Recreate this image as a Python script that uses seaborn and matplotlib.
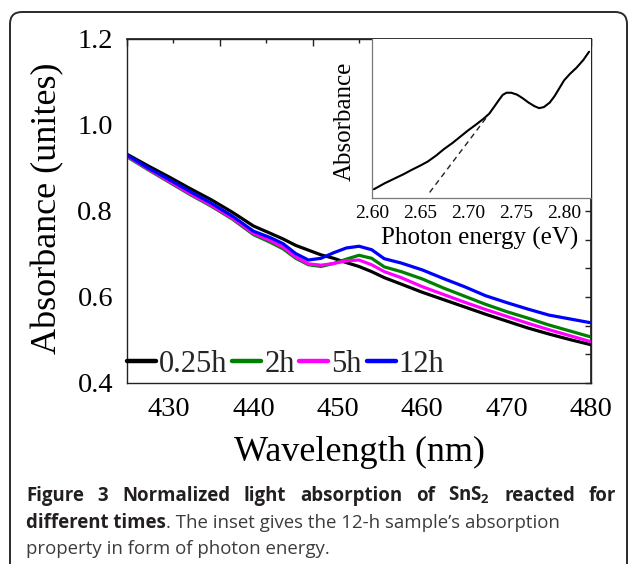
import matplotlib
matplotlib.use("Agg")
import matplotlib.pyplot as plt
import matplotlib.transforms as mtransforms
from matplotlib.patches import FancyBboxPatch
from matplotlib.ticker import MultipleLocator, FixedLocator, FormatStrFormatter, NullFormatter
import seaborn as sns
import pandas as pd
import numpy as np

# ---------------- data ----------------
wavelength = [425, 427.5, 430, 432.5, 435, 437.5, 440, 442, 443.5, 445, 446.5, 448,
              449.5, 451, 452.5, 454, 455.5, 457.5, 460, 462.5, 465, 467.5, 470,
              472.5, 475, 477.5, 480]
abs_025h = [0.932, 0.905, 0.879, 0.852, 0.826, 0.797, 0.765, 0.748, 0.735, 0.720, 0.709,
            0.698, 0.690, 0.680, 0.671, 0.659, 0.645, 0.630, 0.611, 0.594, 0.577, 0.560,
            0.544, 0.528, 0.514, 0.501, 0.489]
abs_2h = [0.926, 0.896, 0.867, 0.838, 0.811, 0.781, 0.745, 0.727, 0.712, 0.690, 0.675,
          0.671, 0.678, 0.688, 0.697, 0.690, 0.670, 0.659, 0.642, 0.621, 0.602, 0.583,
          0.566, 0.551, 0.535, 0.521, 0.507]
abs_5h = [0.928, 0.898, 0.869, 0.840, 0.813, 0.783, 0.748, 0.731, 0.716, 0.693, 0.677,
          0.674, 0.678, 0.684, 0.686, 0.675, 0.659, 0.645, 0.624, 0.606, 0.588, 0.571,
          0.555, 0.539, 0.524, 0.510, 0.496]
abs_12h = [0.930, 0.900, 0.873, 0.845, 0.818, 0.788, 0.753, 0.738, 0.724, 0.701, 0.686,
           0.690, 0.703, 0.714, 0.718, 0.710, 0.689, 0.679, 0.663, 0.643, 0.624, 0.603,
           0.587, 0.572, 0.558, 0.549, 0.540]
series_labels = ["0.25h", "2h", "5h", "12h"]
series_colors = ["#000000", "#008000", "#ff00ff", "#0000ff"]

inset_energy = [2.602, 2.613, 2.624, 2.633, 2.641, 2.650, 2.658, 2.667, 2.675, 2.684,
                2.692, 2.700, 2.709, 2.716, 2.722, 2.727, 2.732, 2.736, 2.740, 2.745,
                2.751, 2.757, 2.763, 2.769, 2.774, 2.779, 2.785, 2.790, 2.795, 2.800,
                2.806, 2.813, 2.820, 2.826]
inset_abs = [0.055, 0.092, 0.124, 0.150, 0.176, 0.203, 0.229, 0.268, 0.308, 0.347,
             0.386, 0.425, 0.465, 0.498, 0.530, 0.572, 0.615, 0.648, 0.662, 0.662,
             0.650, 0.627, 0.600, 0.578, 0.565, 0.572, 0.600, 0.640, 0.690, 0.740,
             0.780, 0.820, 0.868, 0.920]
tangent_energy = [2.660, 2.719]
tangent_abs = [0.035, 0.505]

xticks_main = [430, 440, 450, 460, 470, 480]
yticks_main = [0.4, 0.6, 0.8, 1.0, 1.2]

# ---------------- style ----------------
sns.set_theme(style="white")
plt.rcParams["font.family"] = ["Liberation Serif", "DejaVu Serif"]
plt.rcParams["mathtext.fontset"] = "custom"
plt.rcParams["mathtext.rm"] = "Open Sans"
plt.rcParams["mathtext.bf"] = "Open Sans:bold"

W, H = 629, 564
fig = plt.figure(figsize=(W / 100, H / 100), dpi=100)
fig.patch.set_facecolor("white")

# rounded frame around the figure panel
frame = FancyBboxPatch((10, -30), 617, H - 12 + 30,
                       boxstyle="round,pad=0,rounding_size=12",
                       transform=mtransforms.IdentityTransform(),
                       fill=False, edgecolor="#2a2a2a", linewidth=1.4)
fig.patches.append(frame)

ink = "#222222"

# ---------------- main axes ----------------
ax = fig.add_axes([127 / W, 1 - 383 / H, (591 - 127) / W, (383 - 39) / H])
ax.set_facecolor("white")
df = pd.DataFrame({
    "Wavelength": wavelength * 4,
    "Absorbance": abs_025h + abs_2h + abs_5h + abs_12h,
    "Time": sum([[s] * len(wavelength) for s in series_labels], []),
})
sns.lineplot(data=df, x="Wavelength", y="Absorbance", hue="Time",
             hue_order=series_labels, palette=series_colors,
             linewidth=2.3, estimator=None, sort=False, ax=ax)

ax.set_xlim(425, 480)
ax.set_ylim(0.4, 1.2)
ax.xaxis.set_major_locator(FixedLocator(xticks_main))
ax.xaxis.set_minor_locator(MultipleLocator(5))
ax.yaxis.set_major_locator(FixedLocator(yticks_main))
ax.yaxis.set_minor_locator(MultipleLocator(0.1))
ax.yaxis.set_major_formatter(FormatStrFormatter("%.1f"))
ax.tick_params(which="both", direction="out", top=False, right=False,
               color=ink, width=1.0, labelsize=20.5, labelcolor="black")
ax.tick_params(which="major", length=6, pad=4)
ax.tick_params(which="minor", length=3.5)
for sp in ax.spines.values():
    sp.set_color(ink)
    sp.set_linewidth(1.0)

ax.set_xlabel("Wavelength (nm)", fontsize=26, color="black")
ax.set_ylabel("Absorbance (unites)", fontsize=26, color="black")
ax.xaxis.set_label_coords(0.5, (383 - 452) / 344)
ax.xaxis.label.set_va("center")
ax.yaxis.set_label_coords((48 - 127) / 464, (383 - 208) / 344)
ax.yaxis.label.set_va("center")

# top / right tick axes (independent tick spacing as in the original)
top = ax.secondary_xaxis("top", functions=(lambda x: (np.asarray(x) - 425) / 5.5,
                                           lambda t: 425 + 5.5 * np.asarray(t)))
top.xaxis.set_major_locator(FixedLocator([0, 2, 4, 6, 8, 10]))
top.xaxis.set_minor_locator(FixedLocator([1, 3, 5, 7, 9]))
top.xaxis.set_major_formatter(NullFormatter())
top.tick_params(which="both", direction="in", color=ink, width=1.0)
top.tick_params(which="major", length=5)
top.tick_params(which="minor", length=3)
top.spines["top"].set_color(ink)

right = ax.secondary_yaxis("right", functions=(lambda y: (np.asarray(y) - 0.4) / 0.8 * 12,
                                               lambda t: 0.4 + np.asarray(t) / 12 * 0.8))
right.yaxis.set_major_locator(FixedLocator(list(range(0, 13))))
right.yaxis.set_major_formatter(NullFormatter())
right.tick_params(which="both", direction="in", color=ink, width=1.0, length=4)
right.spines["right"].set_color(ink)

handles, labels = ax.get_legend_handles_labels()
leg = ax.legend(handles, labels, loc="center left",
                bbox_to_anchor=(0.0, (383 - 364) / 344), ncol=4, frameon=False,
                fontsize=22, handlelength=0.95, handletextpad=0.1,
                columnspacing=0.15, borderpad=0, borderaxespad=0)
for h in leg.legend_handles:
    h.set_linewidth(3.2)

# ---------------- inset ----------------
axin = fig.add_axes([372 / W, 1 - 198 / H, (591 - 372) / W, (198 - 39) / H])
axin.set_facecolor("white")
sns.lineplot(x=inset_energy, y=inset_abs, ax=axin, color="black", linewidth=1.5)
sns.lineplot(x=tangent_energy, y=tangent_abs, ax=axin, color="#222222",
             linewidth=1.0, linestyle=(0, (4, 3)))
axin.set_xlim(2.60, 2.828)
axin.set_ylim(0, 1)
axin.xaxis.set_major_locator(MultipleLocator(0.05))
axin.xaxis.set_minor_locator(MultipleLocator(0.025))
axin.xaxis.set_major_formatter(FormatStrFormatter("%.2f"))
axin.yaxis.set_major_locator(FixedLocator([1 / 3, 2 / 3]))
axin.yaxis.set_major_formatter(NullFormatter())
axin.tick_params(which="both", direction="in", color="#666666", width=0.8,
                 labelsize=14, labelcolor="black", top=False, right=False)
axin.tick_params(which="major", length=3.5, pad=5)
axin.tick_params(which="minor", length=2)
axin.spines["left"].set_color("#777777")
axin.spines["bottom"].set_color("#777777")
axin.spines["left"].set_linewidth(0.9)
axin.spines["bottom"].set_linewidth(0.9)
axin.spines["top"].set_visible(False)
axin.spines["right"].set_visible(False)
axin.set_xlabel("Photon energy (eV)", fontsize=18, color="black")
axin.set_ylabel("Absorbance", fontsize=18, color="black")
axin.xaxis.set_label_coords((480 - 372) / 219, (198 - 238) / 159)
axin.xaxis.label.set_va("center")
axin.yaxis.set_label_coords((345 - 372) / 219, (198 - 121) / 159)
axin.yaxis.label.set_va("center")

# ---------------- caption ----------------
cap_fam = ["Open Sans", "DejaVu Sans"]
cap_size = 13.4
bold_col = "#231f20"
norm_col = "#3c3c3c"
renderer = fig.canvas.get_renderer()


def ptxt(x, y, s, **kw):
    return fig.text(x / W, 1 - y / H, s, ha="left", va="baseline",
                    family=cap_fam, fontsize=cap_size, **kw)


left_px, right_px = 26, 616
words = ["Figure", "3", "Normalized", "light", "absorption", "of",
         "SnS$_\\mathbf{2}$", "reacted", "for"]
objs = [ptxt(0, 501, w, fontweight="bold", color=bold_col) for w in words]
widths = [o.get_window_extent(renderer).width for o in objs]
gap = (right_px - left_px - sum(widths)) / (len(words) - 1)
x = left_px
for o, w in zip(objs, widths):
    o.set_x(x / W)
    x += w + gap

b = ptxt(left_px, 527.5, "different times", fontweight="bold", color=bold_col)
bw = b.get_window_extent(renderer).width
ptxt(left_px + bw, 527.5, ". The inset gives the 12-h sample\u2019s absorption", color=norm_col)
ptxt(left_px, 554, "property in form of photon energy.", color=norm_col)

fig.savefig("out.png", dpi=100)
